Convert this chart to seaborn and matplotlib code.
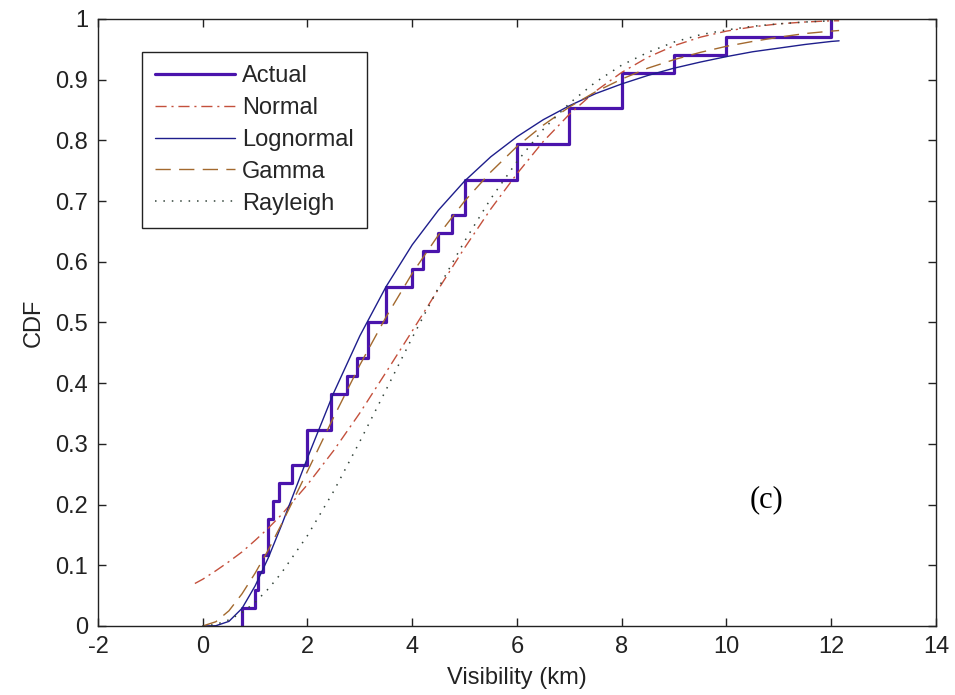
import numpy as np
import pandas as pd
import matplotlib
matplotlib.use("Agg")
import matplotlib.pyplot as plt
import seaborn as sns

# ---------------- data ----------------
# observed visibility samples (km) -> empirical CDF ("Actual")
VISIBILITY = [0.75, 1.0, 1.05, 1.15, 1.25, 1.25, 1.35, 1.45, 1.7, 2.0, 2.0,
              2.45, 2.45, 2.75, 2.95, 3.15, 3.15, 3.5, 3.5, 4.0, 4.2, 4.5,
              4.75, 5.0, 5.0, 6.0, 6.0, 7.0, 7.0, 8.0, 8.0, 9.0, 10.0, 12.0]

# fitted CDF curves
FIT_X = [-0.15, 0, 0.25, 0.5, 0.75, 1, 1.25, 1.5, 2, 2.5, 3, 3.5, 4, 4.5, 5,
         5.5, 6, 6.5, 7, 7.5, 8, 8.5, 9, 9.5, 10, 10.5, 11, 11.5, 12, 12.15]
NORMAL_CDF = [0.070, 0.077, 0.091, 0.106, 0.122, 0.141, 0.161, 0.183, 0.233,
              0.289, 0.351, 0.418, 0.486, 0.555, 0.623, 0.687, 0.745, 0.798,
              0.843, 0.881, 0.912, 0.937, 0.956, 0.970, 0.980, 0.987, 0.992,
              0.995, 0.997, 0.997]
LOGNORMAL_CDF = [np.nan, 0.0, 0.0004, 0.0076, 0.029, 0.066, 0.112, 0.165,
                 0.277, 0.384, 0.478, 0.559, 0.628, 0.685, 0.733, 0.773,
                 0.806, 0.834, 0.857, 0.877, 0.893, 0.907, 0.919, 0.929,
                 0.938, 0.946, 0.952, 0.958, 0.963, 0.964]
GAMMA_CDF = [np.nan, 0.0, 0.007, 0.025, 0.053, 0.087, 0.125, 0.167, 0.255,
             0.344, 0.430, 0.509, 0.581, 0.644, 0.700, 0.748, 0.790, 0.825,
             0.855, 0.880, 0.901, 0.919, 0.933, 0.945, 0.955, 0.963, 0.970,
             0.976, 0.980, 0.981]
RAYLEIGH_CDF = [np.nan, 0.0, 0.0025, 0.010, 0.022, 0.039, 0.061, 0.087, 0.149,
                0.222, 0.304, 0.389, 0.475, 0.557, 0.634, 0.704, 0.765, 0.818,
                0.861, 0.896, 0.924, 0.945, 0.962, 0.974, 0.982, 0.988, 0.992,
                0.995, 0.997, 0.997]

LABELS = ["Actual", "Normal", "Lognormal", "Gamma", "Rayleigh"]
X_TICKS = list(range(-2, 15, 2))
Y_TICKS = [0, 0.1, 0.2, 0.3, 0.4, 0.5, 0.6, 0.7, 0.8, 0.9, 1]

# ---------------- style ----------------
sns.set_theme(style="ticks")
plt.rcParams["font.family"] = ["Liberation Sans", "DejaVu Sans"]
plt.rcParams["axes.linewidth"] = 1.0
plt.rcParams["axes.edgecolor"] = "#222222"

fig = plt.figure(figsize=(9.55, 6.95), dpi=100)
ax = fig.add_axes([0.1026, 0.0993, 0.8775, 0.8734])
ax.set_facecolor("white")

# Actual: empirical CDF
sns.ecdfplot(x=VISIBILITY, ax=ax, color="#4a14ac", linewidth=2.3,
             label=LABELS[0])

curves = [
    (NORMAL_CDF, LABELS[1], "#c4503c", (0, (8, 3.5, 1.5, 3.5)), 1.0),
    (LOGNORMAL_CDF, LABELS[2], "#1e1e8c", "-", 1.0),
    (GAMMA_CDF, LABELS[3], "#a3692e", (0, (11, 6)), 1.0),
    (RAYLEIGH_CDF, LABELS[4], "#33443a", (0, (1, 4.5)), 1.1),
]
for vals, lab, col, ls, lw in curves:
    df = pd.DataFrame({"x": FIT_X, "y": vals}).dropna()
    sns.lineplot(data=df, x="x", y="y", ax=ax, color=col, linestyle=ls,
                 linewidth=lw, label=lab, legend=False)

ax.set_xlim(-2, 14)
ax.set_ylim(0, 1)
ax.set_xticks(X_TICKS)
ax.set_xticklabels([f"{v:g}" for v in X_TICKS])
ax.set_yticks(Y_TICKS)
ax.set_yticklabels([f"{v:g}" for v in Y_TICKS])
ax.tick_params(direction="in", length=6, width=1, top=True, right=True,
               labelsize=17, pad=7, colors="#222222")
for s in ax.spines.values():
    s.set_visible(True)
    s.set_color("#222222")

ax.set_xlabel("Visibility (km)", fontsize=17, labelpad=7, color="#222222")
ax.set_ylabel("CDF", fontsize=17, labelpad=8, color="#222222")

ax.text(10.77, 0.208, "(c)", fontsize=22, ha="center", va="center",
        family=["Liberation Serif", "DejaVu Serif"], color="black")

handles = ax.get_lines()[:5]
leg = ax.legend(handles, LABELS, loc="upper left",
                bbox_to_anchor=(0.0525, 0.9456), bbox_transform=ax.transAxes,
                borderaxespad=0, fontsize=17, frameon=True, fancybox=False,
                framealpha=1, edgecolor="#222222", handlelength=3.4,
                handletextpad=0.28, labelspacing=0.42, borderpad=0.55)
leg.get_frame().set_linewidth(1.0)

fig.savefig("out.png", dpi=100)
